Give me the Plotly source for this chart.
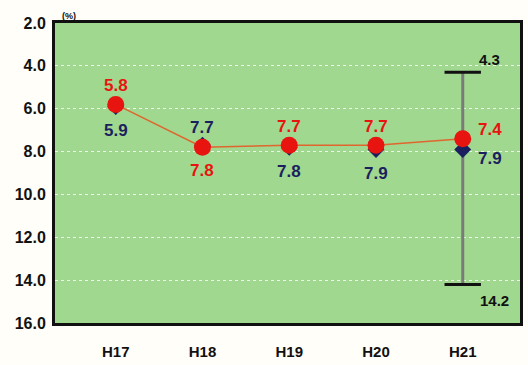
import plotly.graph_objects as go

# Survey years and the two series (%)
years = ["H17", "H18", "H19", "H20", "H21"]
red_values = [5.8, 7.8, 7.7, 7.7, 7.4]
navy_values = [5.9, 7.7, 7.8, 7.9, 7.9]

# Spread shown for the latest year
range_year = "H21"
range_low = 4.3
range_high = 14.2

y_ticks = [2.0, 4.0, 6.0, 8.0, 10.0, 12.0, 14.0, 16.0]

RED = "#e8140f"
NAVY = "#1c1f5e"
LINE = "#e0652e"
FONT = "Liberation Sans, Arial, sans-serif"

# label placement (dx, dy in px) for each point
red_offsets = [(0, 19), (0, -23), (0, 19), (0, 19), (27, 9)]
navy_offsets = [(0, -24), (0, 18), (0, -24), (0, -24), (27, -9)]

fig = go.Figure()

# range bar
fig.add_trace(go.Scatter(
    x=[range_year, range_year], y=[range_low, range_high],
    mode="lines+markers",
    line=dict(color="#7a7a7a", width=3),
    marker=dict(symbol="line-ew", size=26, line=dict(color="#111111", width=3)),
    hoverinfo="skip", showlegend=False,
))

fig.add_trace(go.Scatter(
    x=years, y=navy_values, mode="markers",
    marker=dict(symbol="diamond", size=13, color=NAVY),
    showlegend=False,
))

fig.add_trace(go.Scatter(
    x=years, y=red_values, mode="lines+markers",
    line=dict(color=LINE, width=1.5),
    marker=dict(symbol="circle", size=17, color=RED),
    showlegend=False,
))

annotations = []
for yr, v, (dx, dy) in zip(years, red_values, red_offsets):
    annotations.append(dict(
        x=yr, y=v, xref="x", yref="y", text=f"{v:.1f}", showarrow=False,
        xshift=dx, yshift=dy,
        font=dict(family=FONT, size=17, color=RED, weight="bold"),
    ))
for yr, v, (dx, dy) in zip(years, navy_values, navy_offsets):
    annotations.append(dict(
        x=yr, y=v, xref="x", yref="y", text=f"{v:.1f}", showarrow=False,
        xshift=dx, yshift=dy,
        font=dict(family=FONT, size=17, color=NAVY, weight="bold"),
    ))
annotations.append(dict(
    x=range_year, y=range_low, xref="x", yref="y", text=f"{range_low:.1f}",
    showarrow=False, xshift=27, yshift=13,
    font=dict(family=FONT, size=15, color="#111111", weight="bold"),
))
annotations.append(dict(
    x=range_year, y=range_high, xref="x", yref="y", text=f"{range_high:.1f}",
    showarrow=False, xshift=32, yshift=-16,
    font=dict(family=FONT, size=15, color="#111111", weight="bold"),
))
annotations.append(dict(
    x=0.01, y=1.0, xref="paper", yref="paper", text="(%)",
    showarrow=False, xanchor="left", yanchor="bottom",
    font=dict(family=FONT, size=9, color="#111111", weight="bold"),
))

fig.update_layout(
    width=528, height=365,
    margin=dict(l=55, r=5, t=23, b=34),
    paper_bgcolor="#fffef8",
    plot_bgcolor="#a0d88f",
    annotations=annotations,
    xaxis=dict(
        type="category", categoryorder="array", categoryarray=years,
        range=[-0.70, 4.66],
        showgrid=False, showline=True, linecolor="#111111", linewidth=3,
        mirror=True, ticks="", ticklabelstandoff=13,
        tickfont=dict(family=FONT, size=15, color="#111111", weight="bold"),
        fixedrange=True,
    ),
    yaxis=dict(
        range=[16, 2], tickvals=y_ticks, ticktext=[f"{t:.1f}" for t in y_ticks],
        showgrid=True, gridcolor="rgba(255,255,255,0.8)", griddash="dot",
        gridwidth=1, zeroline=False,
        showline=True, linecolor="#111111", linewidth=3, mirror=True,
        ticks="", ticklabelstandoff=3,
        tickfont=dict(family=FONT, size=16, color="#111111", weight="bold"),
        fixedrange=True,
    ),
)

fig.write_html("out.html")
